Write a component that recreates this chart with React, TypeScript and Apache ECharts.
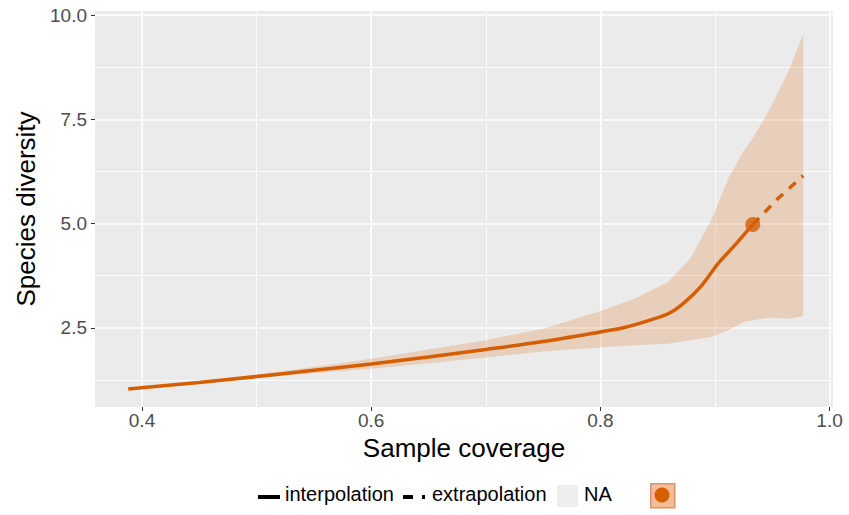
import React, { useEffect, useRef } from 'react';
import * as echarts from 'echarts';

// Tick labels / gridlines
const xTicks = [0.4, 0.6, 0.8, 1.0];
const yTicks = [2.5, 5.0, 7.5, 10.0];
const xMinor = [0.5, 0.7, 0.9];
const yMinor = [1.25, 3.75, 6.25, 8.75];

// Interpolated curve
const xInterp = [0.388, 0.45, 0.5, 0.55, 0.6, 0.65, 0.7, 0.75, 0.8, 0.82, 0.844, 0.86, 0.873, 0.888, 0.903, 0.918, 0.933];
const yInterp = [1.03, 1.19, 1.33, 1.48, 1.63, 1.8, 1.98, 2.17, 2.4, 2.5, 2.69, 2.85, 3.1, 3.5, 4.05, 4.5, 4.98];

// Extrapolated curve
const xExtrap = [0.933, 0.955, 0.977];
const yExtrap = [4.98, 5.6, 6.15];

// Observed point
const obsX = 0.933;
const obsY = 4.98;

// Confidence band
const bandX = [0.388, 0.45, 0.5, 0.55, 0.6, 0.65, 0.7, 0.75, 0.8, 0.83, 0.859, 0.879, 0.897, 0.912, 0.924, 0.933, 0.947, 0.965, 0.977];
const bandUpper = [1.03, 1.22, 1.38, 1.56, 1.76, 1.98, 2.2, 2.48, 2.9, 3.2, 3.6, 4.18, 5.1, 6.1, 6.7, 7.05, 7.7, 8.7, 9.55];
const bandLower = [1.03, 1.16, 1.29, 1.41, 1.52, 1.65, 1.79, 1.93, 2.03, 2.08, 2.12, 2.2, 2.28, 2.45, 2.62, 2.68, 2.74, 2.72, 2.78];

const ORANGE = '#D55E00';
const FONT = '"Liberation Sans", Arial, sans-serif';

export default function App() {
  const ref = useRef<HTMLDivElement>(null);
  useEffect(() => {
    if (!ref.current) return;
    const chart = echarts.init(ref.current, null, { renderer: 'svg' });

    const major = { color: '#FFFFFF', width: 1.6, type: 'solid' };
    const minor = { color: '#FFFFFF', width: 0.8, type: 'solid' };
    const gridLines: any[] = [
      ...xTicks.map((v) => ({ xAxis: v, lineStyle: major })),
      ...xMinor.map((v) => ({ xAxis: v, lineStyle: minor })),
      ...yTicks.map((v) => ({ yAxis: v, lineStyle: major })),
      ...yMinor.map((v) => ({ yAxis: v, lineStyle: minor })),
    ];

    const option: any = {
      animation: false,
      textStyle: { fontFamily: FONT },
      grid: {
        left: 95,
        top: 11,
        right: 16,
        bottom: 108,
        show: true,
        backgroundColor: '#EBEBEB',
        borderWidth: 0,
      },
      xAxis: {
        type: 'value',
        min: 0.359,
        max: 1.003,
        splitLine: { show: false },
        axisLine: { show: false },
        axisTick: { show: true, customValues: xTicks, length: 4, lineStyle: { color: '#333333', width: 1 } },
        axisLabel: {
          customValues: xTicks,
          formatter: (v: number) => v.toFixed(1),
          fontSize: 19,
          color: '#4D4D4D',
          margin: 4,
          fontFamily: FONT,
        },
        name: 'Sample coverage',
        nameLocation: 'middle',
        nameGap: 26,
        nameTextStyle: { fontSize: 26, color: '#000000', fontFamily: FONT, verticalAlign: 'top' },
      },
      yAxis: {
        type: 'value',
        min: 0.6,
        max: 10.1,
        splitLine: { show: false },
        axisLine: { show: false },
        axisTick: { show: true, customValues: yTicks, length: 4, lineStyle: { color: '#333333', width: 1 } },
        axisLabel: {
          customValues: yTicks,
          formatter: (v: number) => v.toFixed(1),
          fontSize: 19,
          color: '#4D4D4D',
          margin: 8,
          fontFamily: FONT,
        },
        name: 'Species diversity',
        nameLocation: 'middle',
        nameGap: 56,
        nameTextStyle: { fontSize: 26, color: '#000000', fontFamily: FONT },
      },
      series: [
        {
          type: 'custom',
          name: 'NA',
          z: 2,
          silent: true,
          data: bandX.map((x, i) => [x, bandLower[i], bandUpper[i]]),
          encode: { x: 0, y: [1, 2] },
          renderItem: (params: any, api: any) => {
            if (params.dataIndex !== 0) return null;
            const pts: number[][] = [];
            for (let i = 0; i < bandX.length; i++) pts.push(api.coord([bandX[i], bandUpper[i]]));
            for (let i = bandX.length - 1; i >= 0; i--) pts.push(api.coord([bandX[i], bandLower[i]]));
            return {
              type: 'polygon',
              shape: { points: pts },
              style: { fill: 'rgba(213,94,0,0.2)', stroke: 'none' },
            };
          },
        },
        {
          type: 'line',
          name: 'interpolation',
          z: 3,
          data: xInterp.map((x, i) => [x, yInterp[i]]),
          showSymbol: false,
          smooth: 0.3,
          lineStyle: { color: ORANGE, width: 3.5 },
          markLine: {
            silent: true,
            z: 1,
            symbol: ['none', 'none'],
            label: { show: false },
            emphasis: { disabled: true },
            data: gridLines,
          },
        },
        {
          type: 'line',
          name: 'extrapolation',
          z: 3,
          data: xExtrap.map((x, i) => [x, yExtrap[i]]),
          showSymbol: false,
          lineStyle: { color: ORANGE, width: 3.5, type: [9, 8] },
        },
        {
          type: 'scatter',
          name: 'observed',
          z: 4,
          data: [[obsX, obsY]],
          symbol: 'circle',
          symbolSize: 15,
          itemStyle: { color: ORANGE },
        },
      ],
      graphic: [
        { type: 'rect', left: 258, top: 495, shape: { width: 22, height: 4 }, style: { fill: '#000000' } },
        {
          type: 'text',
          left: 285,
          top: 484,
          style: { text: 'interpolation', fontSize: 20, fill: '#000000', fontFamily: FONT },
        },
        {
          type: 'line',
          shape: { x1: 403, y1: 497, x2: 425, y2: 497 },
          style: { stroke: '#000000', lineWidth: 4, lineDash: [10, 9] },
        },
        {
          type: 'text',
          left: 432,
          top: 484,
          style: { text: 'extrapolation', fontSize: 20, fill: '#000000', fontFamily: FONT },
        },
        { type: 'rect', left: 557, top: 485, shape: { width: 21, height: 22 }, style: { fill: '#EEEEEE' } },
        {
          type: 'text',
          left: 584,
          top: 484,
          style: { text: 'NA', fontSize: 20, fill: '#000000', fontFamily: FONT },
        },
        {
          type: 'rect',
          left: 650,
          top: 483,
          shape: { width: 24, height: 24 },
          style: { fill: '#F3BE96', stroke: '#DC9464', lineWidth: 1.5 },
        },
        { type: 'circle', shape: { cx: 662, cy: 495, r: 7.5 }, style: { fill: ORANGE } },
      ],
    };
    chart.setOption(option);
    return () => chart.dispose();
  }, []);
  return <div ref={ref} style={{ width: 849, height: 515, position: 'absolute', left: 0, top: 0 }} />;
}
